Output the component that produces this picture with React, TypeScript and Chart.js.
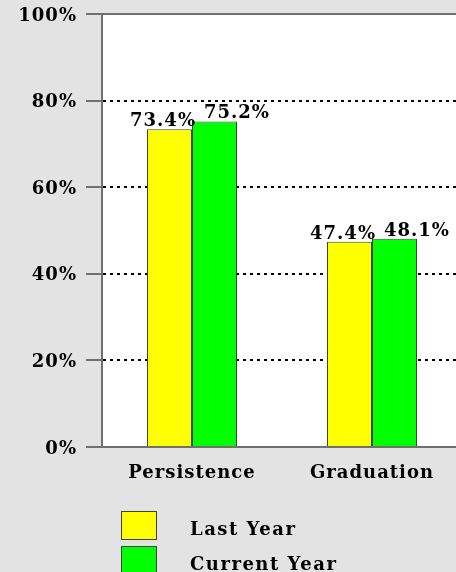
import React, { useEffect, useRef } from "react";
import { Chart, registerables } from "chart.js";

Chart.register(...registerables);

const categories = ["Persistence", "Graduation"];
const seriesLabels = ["Last Year", "Current Year"];
const lastYear = [73.4, 47.4];
const currentYear = [75.2, 48.1];
const seriesColors = ["#ffff00", "#00ff00"];
const yTickValues = [0, 20, 40, 60, 80, 100];

const BG = "#e3e3e3";
const AXIS = "#707070";
const FONT = "'DejaVu Serif', serif";

export default function App() {
  const ref = useRef<HTMLCanvasElement | null>(null);

  useEffect(() => {
    document.body.style.margin = "0";
    const canvas = ref.current!;
    const bgPlugin = {
      id: "bg",
      beforeDraw(chart: any) {
        const { ctx, chartArea } = chart;
        ctx.fillStyle = BG;
        ctx.fillRect(0, 0, chart.width, chart.height);
        ctx.fillStyle = "#ffffff";
        ctx.fillRect(chartArea.left, chartArea.top, chartArea.right - chartArea.left, chartArea.bottom - chartArea.top);
        (ctx as any).letterSpacing = "1px";
      },
    };
    const valuePlugin = {
      id: "values",
      afterDatasetsDraw(chart: any) {
        const { ctx } = chart;
        ctx.save();
        ctx.fillStyle = "#000";
        ctx.font = `bold 18px ${FONT}`;
        (ctx as any).letterSpacing = "1px";
        ctx.textBaseline = "alphabetic";
        chart.data.datasets.forEach((ds: any, di: number) => {
          const meta = chart.getDatasetMeta(di);
          meta.data.forEach((bar: any, i: number) => {
            const txt = ds.data[i].toFixed(1) + "%";
            if (di === 0) {
              ctx.textAlign = "right";
              ctx.fillText(txt, bar.x + bar.width / 2 + 4, bar.y - 3);
            } else {
              ctx.textAlign = "left";
              ctx.fillText(txt, bar.x - bar.width / 2 + 12, bar.y - 3);
            }
          });
        });
        ctx.restore();
      },
    };
    const legendPlugin = {
      id: "customLegend",
      afterDraw(chart: any) {
        const { ctx } = chart;
        ctx.save();
        chart.data.datasets.forEach((ds: any, i: number) => {
          const y = 511 + i * 35;
          ctx.fillStyle = ds.backgroundColor;
          ctx.fillRect(121.5, y + 0.5, 35, 28);
          ctx.strokeStyle = "#404040";
          ctx.lineWidth = 1;
          ctx.strokeRect(121.5, y + 0.5, 35, 28);
          ctx.fillStyle = "#000";
          ctx.font = `bold 18px ${FONT}`;
          (ctx as any).letterSpacing = "1.5px";
          ctx.textAlign = "left";
          ctx.textBaseline = "alphabetic";
          ctx.fillText(ds.label, 190, y + 24);
        });
        ctx.restore();
      },
    };

    const chart = new Chart(canvas, {
      type: "bar",
      data: {
        labels: categories,
        datasets: [
          {
            label: seriesLabels[0],
            data: lastYear,
            backgroundColor: seriesColors[0],
            borderColor: "#404040",
            borderWidth: 1,
            categoryPercentage: 0.5,
            barPercentage: 1,
          },
          {
            label: seriesLabels[1],
            data: currentYear,
            backgroundColor: seriesColors[1],
            borderColor: "#404040",
            borderWidth: 1,
            categoryPercentage: 0.5,
            barPercentage: 1,
          },
        ],
      },
      options: {
        responsive: false,
        animation: false,
        devicePixelRatio: 1,
        layout: { padding: { top: 14, right: 0, bottom: 0, left: 0 } },
        plugins: {
          legend: { display: false },
          tooltip: { enabled: false },
        },
        scales: {
          x: {
            afterFit(scale: any) {
              scale.height = 125;
            },
            grid: { display: false },
            border: { color: AXIS, width: 2 },
            ticks: {
              color: "#000",
              font: { family: FONT, size: 18, weight: "bold" },
              padding: 8,
            },
          },
          y: {
            min: 0,
            max: 100,
            afterFit(scale: any) {
              scale.width = 102;
              scale.paddingTop = 0;
              scale.paddingBottom = 0;
            },
            afterBuildTicks(scale: any) {
              scale.ticks = yTickValues.map((v) => ({ value: v }));
            },
            border: {
              color: AXIS,
              width: 2,
              dash: (ctx: any) =>
                ctx.tick && ctx.tick.value !== 0 && ctx.tick.value !== 100 ? [3, 4] : [],
            },
            grid: {
              color: (ctx: any) =>
                ctx.tick && (ctx.tick.value === 0 || ctx.tick.value === 100) ? AXIS : "#000",
              lineWidth: 2,
              tickColor: AXIS,
              tickWidth: 2,
              tickLength: 16,
              tickBorderDash: [],
            },
            ticks: {
              color: "#000",
              font: { family: FONT, size: 18, weight: "bold" },
              padding: 9,
              labelOffset: 2,
              callback: (v: any) => v + "%",
            },
          },
        },
      },
      plugins: [bgPlugin, valuePlugin, legendPlugin],
    });
    return () => chart.destroy();
  }, []);

  return (
    <div style={{ width: 456, height: 572, overflow: "hidden", position: "relative" }}>
      <canvas ref={ref} width={462} height={572} style={{ display: "block" }} />
    </div>
  );
}
